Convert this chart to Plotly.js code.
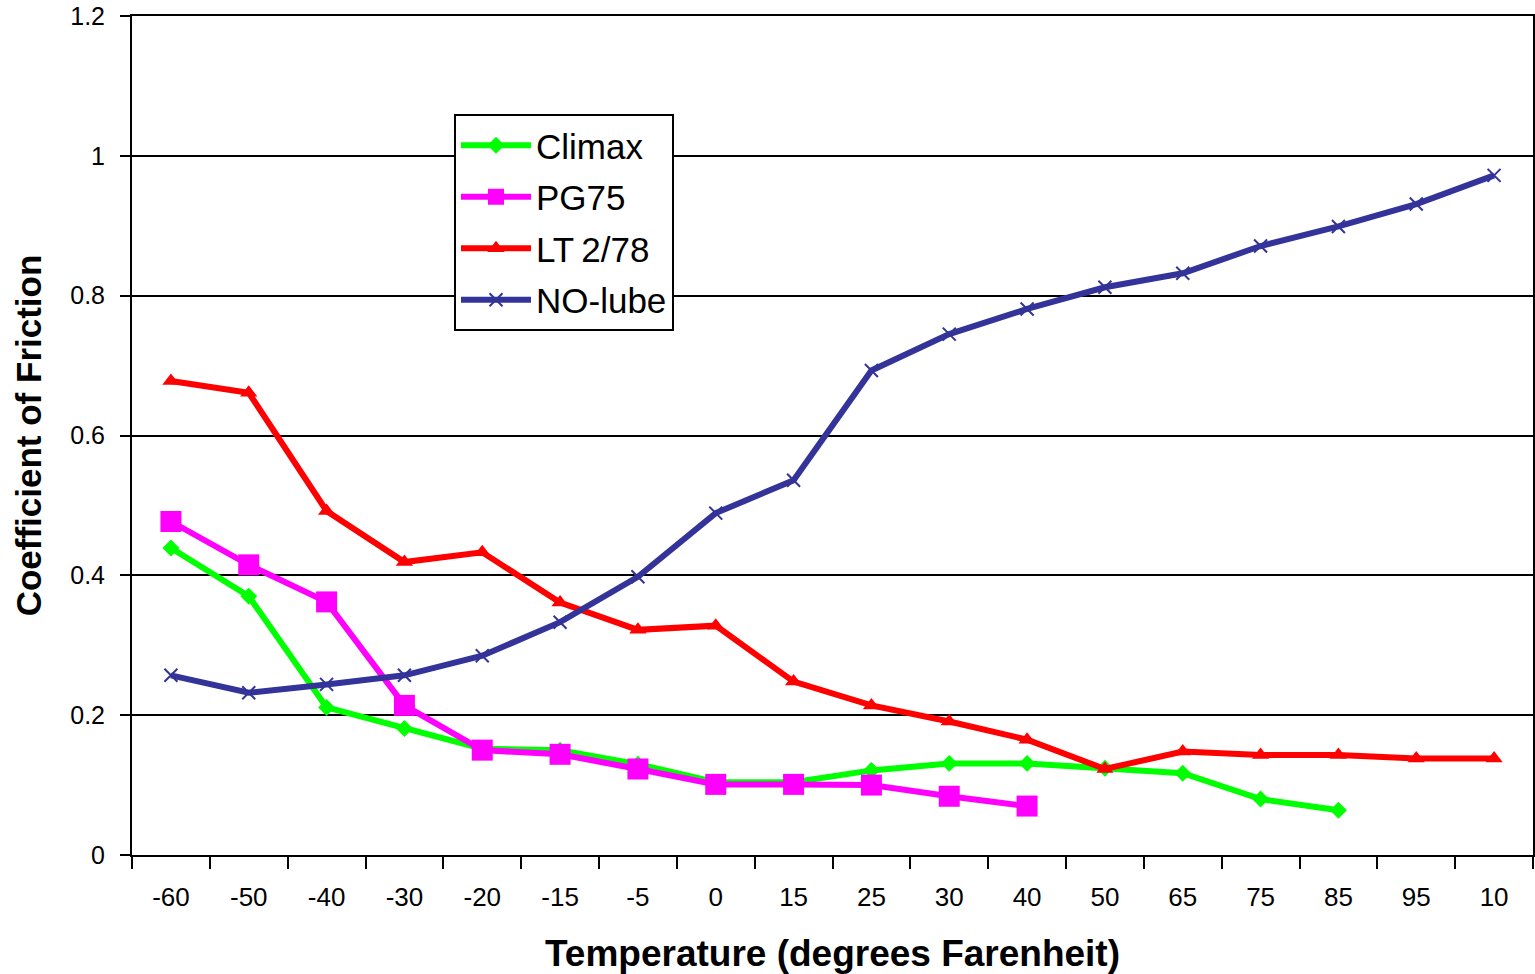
<!DOCTYPE html>
<html>
<head>
<meta charset="utf-8">
<script src="https://cdn.plot.ly/plotly-3.0.1.min.js"></script>
<style>
html,body{margin:0;padding:0;background:#fff;}
#chart{width:1535px;height:974px;}
</style>
</head>
<body>
<div id="chart"></div>
<script>
var categories = ["-60","-50","-40","-30","-20","-15","-5","0","15","25","30","40","50","65","75","85","95","10"];

var climax = [0.439,0.370,0.211,0.181,0.152,0.150,0.130,0.104,0.104,0.121,0.131,0.131,0.124,0.117,0.080,0.064];
var pg75 = [0.477,0.415,0.362,0.214,0.150,0.144,0.123,0.101,0.101,0.100,0.084,0.070];
var lt278 = [0.678,0.661,0.492,0.419,0.433,0.361,0.322,0.328,0.248,0.214,0.191,0.165,0.123,0.148,0.143,0.143,0.138,0.138];
var nolube = [0.257,0.232,0.244,0.257,0.285,0.333,0.398,0.489,0.536,0.693,0.745,0.781,0.812,0.832,0.871,0.899,0.931,0.972];

var yTicks = [0,0.2,0.4,0.6,0.8,1,1.2];
var yTickText = ["0","0.2","0.4","0.6","0.8","1","1.2"];

function trace(name, vals, color, symbol, size, mline) {
  return {
    type: "scatter", mode: "lines+markers", name: name, legendgroup: name,
    x: categories.slice(0, vals.length), y: vals,
    line: {color: color, width: 6},
    marker: {color: color, symbol: symbol, size: size, line: mline || {width: 0}},
    cliponaxis: false
  };
}

var data = [
  trace("Climax", climax, "#00FF00", "diamond", 13),
  trace("PG75", pg75, "#FF00FF", "square", 21, {color: "#FF00FF", width: 0}),
  trace("LT\u20092/78", lt278, "#FF0000", "triangle-up", 15),
  trace("NO-lube", nolube, "#333399", "x-thin", 13, {color: "#333399", width: 2})
];

var layout = {
  width: 1535, height: 974,
  margin: {l: 132, r: 2, t: 16, b: 119},
  paper_bgcolor: "#fff", plot_bgcolor: "#fff",
  font: {family: "Liberation Sans, Arial, sans-serif", color: "#000"},
  showlegend: true,
  legend: {
    bgcolor: "#fff", bordercolor: "#000", borderwidth: 2,
    font: {size: 35, color: "#000"},
    itemwidth: 70, tracegroupgap: 3,
    xanchor: "left", yanchor: "top"
  },
  xaxis: {
    type: "category", categoryorder: "array", categoryarray: categories,
    range: [-0.5, 17.5],
    tickmode: "array", tickvals: categories, ticktext: categories,
    tickson: "boundaries", ticks: "outside", ticklen: 12, tickwidth: 2, tickcolor: "#000",
    ticklabelstandoff: 18,
    showline: true, linecolor: "#000", linewidth: 2, mirror: true,
    showgrid: false, zeroline: false,
    tickfont: {size: 26, color: "#000"},
    title: {text: "Temperature (degrees Farenheit)", font: {size: 37, color: "#000", family: "Liberation Sans, Arial, sans-serif", weight: "bold"}, standoff: 30}
  },
  yaxis: {
    range: [0, 1.2],
    tickmode: "array", tickvals: yTicks, ticktext: yTickText,
    ticks: "outside", ticklen: 10, tickwidth: 2, tickcolor: "#000",
    ticklabelstandoff: 10, ticklabeloverflow: "allow",
    showline: true, linecolor: "#000", linewidth: 2, mirror: true,
    showgrid: true, gridcolor: "#000", gridwidth: 2,
    zeroline: false,
    tickfont: {size: 25, color: "#000"},
    title: {text: "Coefficient of Friction", font: {size: 35, color: "#000", family: "Liberation Sans, Arial, sans-serif", weight: "bold"}, standoff: 18}
  }
};

layout.legend.x = (454 - 132) / (1533 - 132);
layout.legend.y = (855 - 114) / (855 - 16);

Plotly.newPlot("chart", data, layout, {displayModeBar: false, responsive: false});
</script>
</body>
</html>
